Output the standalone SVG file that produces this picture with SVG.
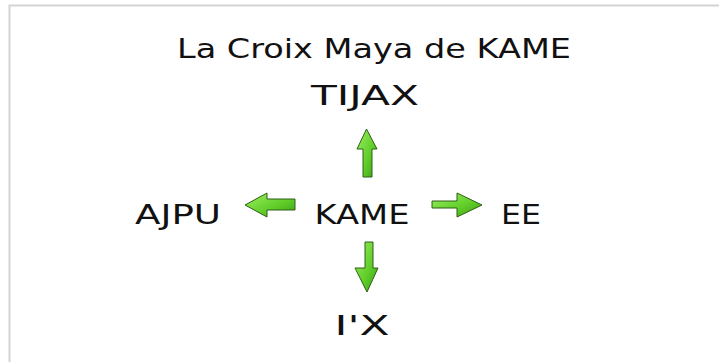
<svg xmlns="http://www.w3.org/2000/svg" width="719" height="362" viewBox="0 0 719 362">
<style>
text{font-family:"Comic Sans MS","DejaVu Sans",sans-serif;font-size:27px;fill:#111;text-anchor:middle}
.arr{fill:url(#g);stroke:#2f5f14;stroke-width:1}
</style>
<defs>
<linearGradient id="g" x1="0" y1="0" x2="1" y2="1">
<stop offset="0" stop-color="#9af060"/>
<stop offset="0.6" stop-color="#5fcc28"/>
<stop offset="1" stop-color="#3a9a18"/>
</linearGradient>
</defs>
<rect width="719" height="362" fill="#fff"/>
<path d="M9.5 362V5.5H719" fill="none" stroke="#d4d4d4" stroke-width="2"/>
<g id="title"><text x="374" y="58" textLength="394" lengthAdjust="spacingAndGlyphs">La Croix Maya de KAME</text></g>
<g id="TIJAX"><text x="365" y="105" textLength="108" lengthAdjust="spacingAndGlyphs">TIJAX</text></g>
<g id="KAME"><text x="362" y="224" textLength="95" lengthAdjust="spacingAndGlyphs">KAME</text></g>
<g id="AJPU"><text x="178" y="224" textLength="86" lengthAdjust="spacingAndGlyphs">AJPU</text></g>
<g id="EE"><text x="521" y="224" textLength="40" lengthAdjust="spacingAndGlyphs">EE</text></g>
<g id="IX"><text x="362" y="335" textLength="55" lengthAdjust="spacingAndGlyphs">I'X</text></g>
<g id="connectors">
<path class="arr" d="M363 177V149H357L366.5 129L377 149H372V177Z"/>
<path class="arr" d="M295 199H267V193L245 205L267 217V210H295Z"/>
<path class="arr" d="M432 201H457V193L482 205L457 217V208H432Z"/>
<path class="arr" d="M365 242H373V268H378L367 292L355 268H365Z"/>
</g>
</svg>
